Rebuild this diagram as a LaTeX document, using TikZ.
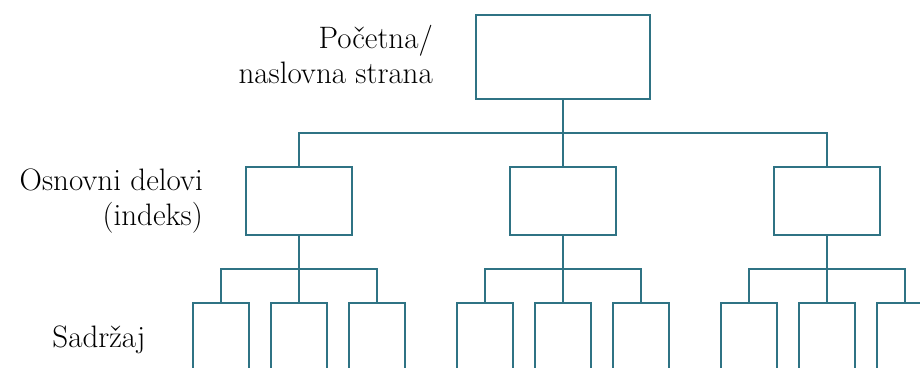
\documentclass[tikz,border=0pt]{standalone}
\definecolor{teal}{RGB}{47,115,132}
\tikzset{
  box/.style={draw=teal, line width=1.8pt, rectangle, inner sep=0pt, fill=white},
  topbox/.style={box, minimum width=174pt, minimum height=84pt},
  midbox/.style={box, minimum width=106pt, minimum height=68pt},
  leafbox/.style={box, minimum width=56pt, minimum height=100pt},
  conn/.style={draw=teal, line width=1.8pt},
  lbl/.style={font=\fontsize{31}{35}\selectfont, align=right, inner sep=0pt}
}
\begin{document}
\begin{tikzpicture}[x=1pt,y=-1pt]
\useasboundingbox (0,0) rectangle (920,367);
\clip (0,0) rectangle (920,367);
% connectors
\coordinate (b0) at (563,133);
\coordinate (b1) at (299,269);
\coordinate (b2) at (563,269);
\coordinate (b3) at (827,269);
% nodes
\node[topbox] (top) at (563,57) {};
\node[midbox] (m1) at (299,201) {};
\node[midbox] (m2) at (563,201) {};
\node[midbox] (m3) at (827,201) {};
\foreach \g/\c in {1/299,2/563,3/827}{
  \node[leafbox] (s\g a) at (\c-78,353) {};
  \node[leafbox] (s\g b) at (\c,353) {};
  \node[leafbox] (s\g c) at (\c+78,353) {};
}
\draw[conn] (top.south) -- (m2.north);
\draw[conn] (m1.north) |- (b0) -| (m3.north);
\foreach \g in {1,2,3}{
  \draw[conn] (m\g.south) -- (s\g b.north);
  \draw[conn] (s\g a.north) |- (b\g) -| (s\g c.north);
}
% labels
\node[lbl, anchor=east] (l1) at (433,55) {Početna/\\naslovna strana};
\node[lbl, anchor=east] (l2) at (203,201) {Osnovni delovi\\(indeks)};
\node[lbl] (l3) at (99,340) {Sadržaj};
\end{tikzpicture}
\end{document}
